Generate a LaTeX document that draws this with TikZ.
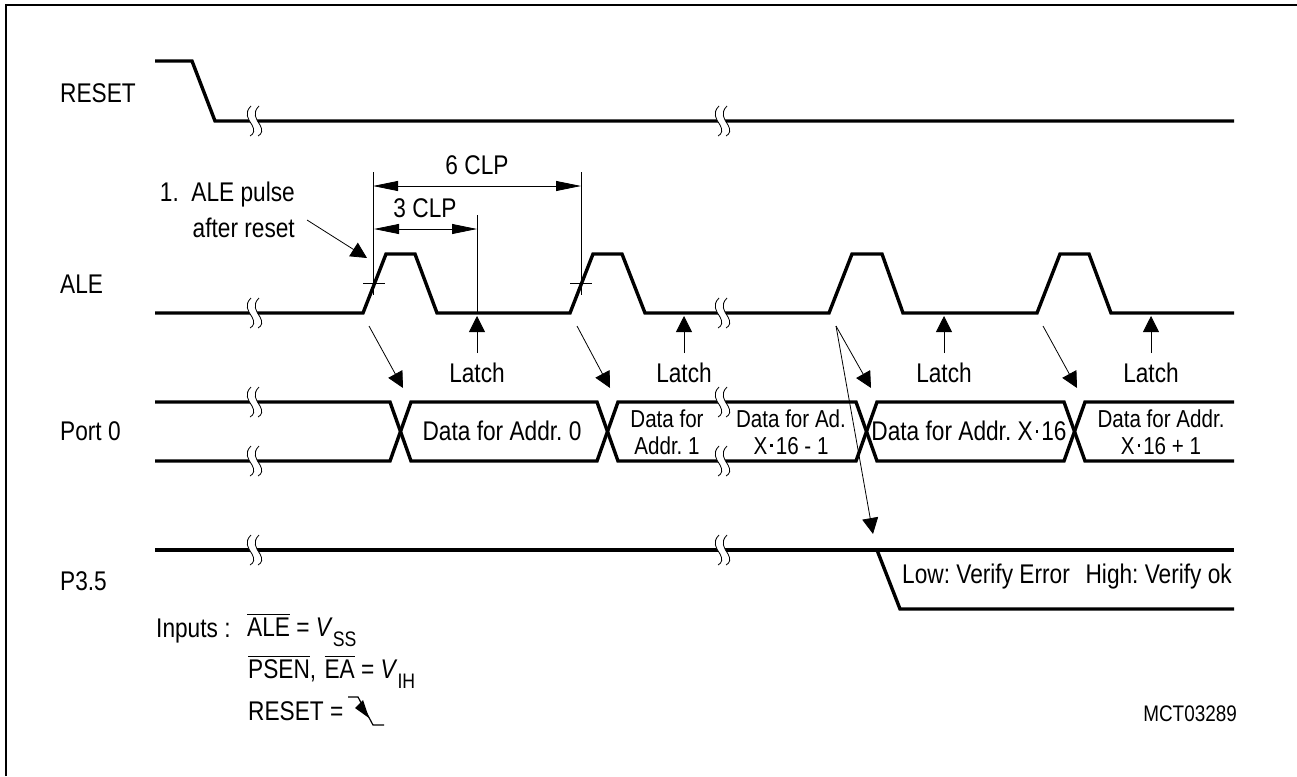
\documentclass[tikz,border=0pt]{standalone}
\usepackage{fontspec}
\setmainfont{Liberation Sans}[FakeStretch=0.84]
\usetikzlibrary{arrows.meta}
\newcommand{\ovl}[1]{\leavevmode\vbox{\hrule height 1pt\vskip 2.5pt\hbox{#1}}}
\newcommand{\mdot}{\hspace{3pt}\raisebox{.3em}{\rule{2.6pt}{2.6pt}}\hspace{3pt}}
\newcommand{\subs}[1]{\raisebox{-10pt}{\fontsize{21}{24}\selectfont #1}}
\frenchspacing
\begin{document}
\begin{tikzpicture}[x=1pt,y=-1pt,line join=miter,
  signal/.style={line width=3.4pt},
  thinline/.style={line width=0.8pt},
  ptr/.style={line width=0.8pt,-{Triangle[length=16pt,width=16pt]}},
  dim/.style={line width=0.8pt,{Triangle[length=25pt,width=10pt]}-{Triangle[length=25pt,width=10pt]}},
  lbl/.style={inner sep=0pt,font=\fontsize{27}{30}\selectfont},
  small/.style={inner sep=0pt,align=center,font=\fontsize{24.5}{27}\selectfont},
  brk/.pic={
    \fill[white] (0,-15) .. controls (-7,-8) and (-3,-2) .. (1,4) .. controls (4,9) and (3,13) .. (-1,15)
      -- (7,15) .. controls (11,13) and (12,9) .. (9,4) .. controls (5,-2) and (1,-8) .. (8,-15) -- cycle;
    \draw[thinline] (0,-15) .. controls (-7,-8) and (-3,-2) .. (1,4) .. controls (4,9) and (3,13) .. (-1,15);
    \draw[thinline] (8,-15) .. controls (1,-8) and (5,-2) .. (9,4) .. controls (12,9) and (11,13) .. (7,15);
  }]
\useasboundingbox (0,0) rectangle (1297,776);
\draw[line width=1.6pt] (6,776)--(6,5)--(1297,5);
% signals
\draw[signal] (155,61)--(192,61)--(215,121)--(1234,121);
\draw[signal] (155,313)--(363,313)--(386,254)--(415,254)--(437,313)--(570,313)--(593,254)--(622,254)--(645,313)--(829,313)--(852,254)--(882,254)--(903,313)--(1037,313)--(1060,254)--(1089,254)--(1111,313)--(1234,313);
\draw[signal] (155,402)--(390,402)--(411,461)--(597,461)--(618,402)--(856,402)--(877,461)--(1064,461)--(1085,402)--(1234,402);
\draw[signal] (155,461)--(390,461)--(411,402)--(597,402)--(618,461)--(856,461)--(877,402)--(1064,402)--(1085,461)--(1234,461);
\draw[signal] (155,550)--(1234,550);
\draw[signal] (877,550)--(900,609)--(1234,609);
% breaks
\foreach \x/\y in {251/121,719/121,251/313,719/313,251/402,719/402,251/461,719/461,251/550,719/550}
  \pic at (\x,\y) {brk};
% dimension lines
\draw[thinline] (373,172)--(373,295);
\draw[thinline] (581,172)--(581,295);
\draw[thinline] (363,283)--(385,283);
\draw[thinline] (570,283)--(592,283);
\draw[dim] (373,186)--(581,186);
\draw[dim] (374,229)--(477,229);
\draw[thinline] (477,215)--(477,313);
% pointers
\draw[ptr] (307,220)--(367,258);
\foreach \x/\xx in {369/403,577/610,836/871,1043/1077}
  \draw[ptr] (\x,326)--(\xx,388);
\draw[ptr] (836,326)--(873,534);
\foreach \x in {477,684,944,1151}{
  \draw[ptr] (\x,353)--(\x,316);
  \node[lbl] at (\x,373) {Latch};
}
% labels
\node[lbl,anchor=west] (reset) at (60,93) {RESET};
\node[lbl,anchor=west] (ale) at (60,284) {ALE};
\node[lbl,anchor=west] (port) at (60,431) {Port 0};
\node[lbl,anchor=west] (pin) at (60,581) {P3.5};
\node[lbl] (six) at (477,165) {6 CLP};
\node[lbl] (three) at (425,208) {3 CLP};
\node[lbl,anchor=east] (first) at (295,195) {1.\ \ ALE pulse};
\node[lbl,anchor=east] (after) at (295,228) {after reset};
\node[lbl] (d0) at (502,431) {Data for Addr. 0};
\node[small] (d1) at (667,432) {Data for\\Addr. 1};
\node[small] (d2) at (791,432) {Data for Ad.\\X\mdot 16 - 1};
\node[lbl] (d3) at (969,431) {Data for Addr. X\mdot 16};
\node[small] (d4) at (1161,432) {Data for Addr.\\X\mdot 16 + 1};
\node[lbl,anchor=west] (low) at (902,577) {Low: Verify Error};
\node[lbl,anchor=east] (high) at (1232,577) {High: Verify ok};
\node[lbl,anchor=base west] (inp) at (156,637) {Inputs :};
\node[lbl,anchor=base west] (vss) at (247,636) {\ovl{ALE} = \textit{V}\subs{SS}};
\node[lbl,anchor=base west] (vih) at (248,678) {\ovl{PSEN},\hspace{2pt} \ovl{EA} = \textit{V}\subs{IH}};
\node[lbl,anchor=base west] (rst) at (248,720) {RESET =};
% edge symbol
\draw[line width=1.2pt] (348,697)--(358,697)--(373,725)--(384,725);
\fill (355,708)--(363,700)--(369,718)--cycle;
\node[inner sep=0pt,font=\fontsize{22.5}{25}\selectfont,anchor=east] (mct) at (1237,714) {MCT03289};
\end{tikzpicture}
\end{document}
